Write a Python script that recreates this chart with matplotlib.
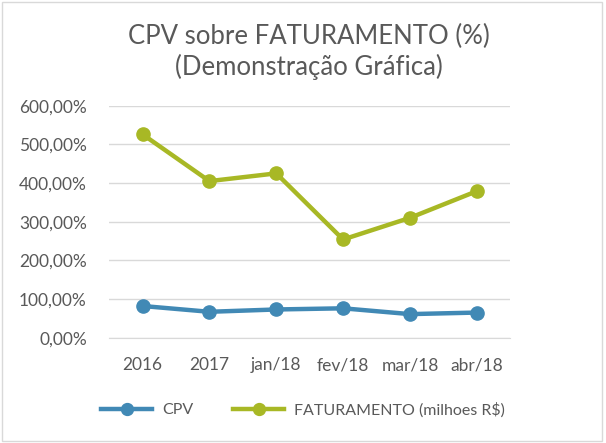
import matplotlib
matplotlib.use("Agg")
import matplotlib.pyplot as plt
from matplotlib.patches import FancyBboxPatch
from matplotlib.ticker import FuncFormatter

categories = ["2016", "2017", "jan/18", "fev/18", "mar/18", "abr/18"]
cpv = [82, 67, 73, 76, 61, 65]
faturamento = [526, 405, 425, 254, 310, 379]

BLUE = "#4189B5"
GREEN = "#A8B825"
TXT = "#595959"

plt.rcParams["font.family"] = ["Lato", "DejaVu Sans"]

fig = plt.figure(figsize=(6.06, 4.43), dpi=100)
ax = fig.add_axes([0.18, 0.2377, 0.662, 0.5237])

x = range(len(categories))
ax.plot(x, cpv, "o-", color=BLUE, lw=3.2, ms=9.5, label="CPV")
ax.plot(x, faturamento, "o-", color=GREEN, lw=3.2, ms=9.5,
        label="FATURAMENTO (milhoes R$)")

ax.set_xlim(-0.5, len(categories) - 0.5)
ax.set_ylim(0, 600)
ax.set_yticks(range(0, 601, 100))
ax.yaxis.set_major_formatter(FuncFormatter(lambda v, p: f"{v:.2f}%".replace(".", ",")))
ax.set_xticks(list(x))
ax.set_xticklabels(categories)
ax.tick_params(length=0, labelsize=12.5, colors=TXT, pad=14)
ax.tick_params(axis="y", pad=16)
ax.grid(axis="y", color="#D9D9D9", lw=1)
ax.set_axisbelow(True)
for s in ("top", "right", "left"):
    ax.spines[s].set_visible(False)
ax.spines["bottom"].set_color("#D9D9D9")

fig.text(0.51, 0.918, "CPV sobre FATURAMENTO (%)", ha="center", va="center",
         fontsize=18.5, color=TXT)
fig.text(0.51, 0.848, "(Demonstração Gráfica)", ha="center", va="center",
         fontsize=18.5, color=TXT)

fig.legend(loc="center", bbox_to_anchor=(0.5, 0.075), ncol=2, frameon=False,
           fontsize=11.5, labelcolor=TXT, handlelength=3.2, columnspacing=2.5,
           handletextpad=0.6, markerscale=0.9)

fig.patches.append(FancyBboxPatch((0.004, 0.005), 0.99, 0.99, transform=fig.transFigure,
                                  boxstyle="square,pad=0", fill=False,
                                  edgecolor="#D9D9D9", lw=1))

fig.savefig("out.png", dpi=100)
